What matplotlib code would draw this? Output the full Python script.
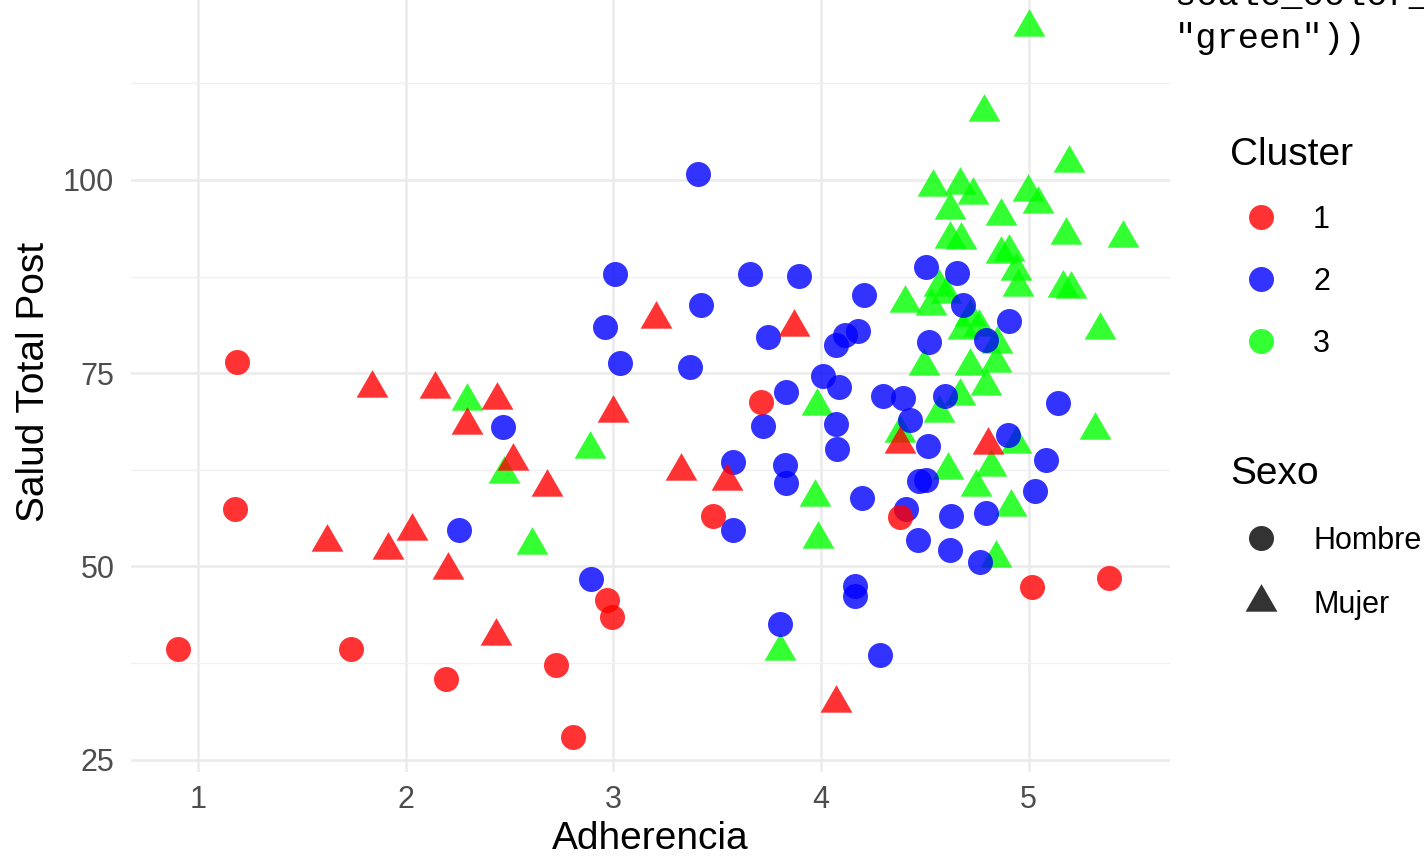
import numpy as np
import matplotlib
matplotlib.use("Agg")
import matplotlib.pyplot as plt
from matplotlib.lines import Line2D

plt.rcParams['font.family'] = ['Liberation Sans', 'DejaVu Sans']

# Cluster 1 - Hombre
c1_h_x = [1.19, 1.178, 0.905, 1.735, 2.197, 2.968, 2.992, 2.724, 2.804, 3.482, 3.714, 4.379, 5.018, 5.387]
c1_h_y = [76.5, 57.4, 39.3, 39.3, 35.4, 45.6, 43.5, 37.2, 28.0, 56.5, 71.3, 56.4, 47.3, 48.5]
# Cluster 1 - Mujer
c1_m_x = [1.836, 2.141, 2.442, 2.298, 2.517, 1.623, 1.916, 2.032, 2.205, 2.436, 2.679, 3.0, 3.204,
          3.87, 3.327, 3.548, 4.075, 4.379, 4.804]
c1_m_y = [73.1, 73.0, 71.5, 68.3, 63.6, 53.1, 52.1, 54.6, 49.6, 41.0, 60.3, 69.8, 82.0,
          81.0, 62.3, 61.0, 32.4, 65.9, 65.7]
# Cluster 2 - Hombre
c2_h_x = [2.47, 2.255, 2.893, 3.406, 3.008, 3.658, 3.894, 4.21, 3.425, 2.96, 3.743, 4.075, 4.116, 4.18,
          3.032, 3.369, 4.011, 4.088, 3.831, 3.722, 4.075, 4.08, 3.578, 3.827, 3.831, 4.197, 3.575,
          4.164, 4.164, 3.803, 4.286,
          4.505, 4.658, 4.686, 4.905, 4.796, 4.52, 4.299, 4.395, 4.6, 4.427, 5.141, 4.515, 4.902,
          5.085, 4.475, 4.507, 5.029, 4.41, 4.628, 4.796, 4.467, 4.62, 4.764]
c2_h_y = [68.0, 54.7, 48.4, 100.8, 87.8, 87.8, 87.6, 85.1, 83.8, 81.0, 79.7, 78.7, 79.9, 80.5,
          76.3, 75.8, 74.7, 73.2, 72.6, 68.2, 68.4, 65.2, 63.5, 63.1, 60.8, 58.8, 54.7,
          47.5, 46.2, 42.5, 38.6,
          88.8, 87.9, 83.8, 81.8, 79.3, 79.1, 72.0, 71.8, 72.1, 69.0, 71.1, 65.6, 67.0,
          63.8, 61.0, 61.2, 59.7, 57.4, 56.5, 56.9, 53.4, 52.1, 50.6]
# Cluster 3 - Mujer
c3_m_x = [2.298, 2.474, 2.888, 2.607, 3.979, 3.971, 3.987, 3.803,
          5.0, 4.788, 5.197, 4.539, 4.668, 4.732, 4.62, 4.997, 5.045, 4.868, 5.181, 5.454,
          4.62, 4.676, 4.868, 4.908, 4.94, 4.95, 5.165, 5.205, 4.571, 4.604, 4.403, 4.531,
          4.716, 4.684, 4.76, 4.85, 5.342, 4.499, 4.716, 4.844, 4.796, 4.668, 4.571, 4.379,
          4.94, 5.318, 4.612, 4.82, 4.748, 4.917, 4.844]
c3_m_y = [71.4, 61.9, 65.2, 52.8, 70.7, 59.0, 53.6, 39.0,
          119.8, 108.8, 102.2, 99.1, 99.4, 98.0, 96.1, 98.4, 96.9, 95.3, 92.9, 92.5,
          92.4, 92.2, 90.4, 90.7, 88.2, 86.2, 86.0, 85.9, 86.2, 85.3, 84.1, 83.7,
          82.3, 80.6, 81.0, 78.8, 80.6, 75.9, 75.9, 76.3, 73.3, 72.0, 69.8, 67.2,
          65.9, 67.7, 62.5, 62.9, 60.3, 57.7, 51.1]

clusters = ["1", "2", "3"]
colores = ["#FF0000", "#0000FF", "#00FF00"]
sexos = ["Hombre", "Mujer"]

triangulo = [(0, 1), (-0.866, -0.5), (0.866, -0.5)]
s_circ = 324
s_tri = 700

fig = plt.figure(figsize=(14.24, 8.58), dpi=100)

all_x = np.concatenate([c1_h_x, c1_m_x, c2_h_x, c3_m_x])
all_y = np.concatenate([c1_h_y, c1_m_y, c2_h_y, c3_m_y])
xr = all_x.max() - all_x.min()
yr = all_y.max() - all_y.min()
xlim = (all_x.min() - 0.05 * xr, all_x.max() + 0.05 * xr)
ylim = (all_y.min() - 0.05 * yr, all_y.max() + 0.05 * yr)

# panel algo más alto que la figura: arriba queda cortado como en la captura
ax = fig.add_axes([131 / 1424, 86 / 858, 1039 / 1424, 780.6 / 858])

ax.scatter(c3_m_x, c3_m_y, s=s_tri, marker=triangulo, color=colores[2], alpha=0.8, linewidths=0)
ax.scatter(c2_h_x, c2_h_y, s=s_circ, marker="o", color=colores[1], alpha=0.8, linewidths=0)
ax.scatter(c1_m_x, c1_m_y, s=s_tri, marker=triangulo, color=colores[0], alpha=0.8, linewidths=0)
ax.scatter(c1_h_x, c1_h_y, s=s_circ, marker="o", color=colores[0], alpha=0.8, linewidths=0)

ax.set_xlim(xlim)
ax.set_ylim(ylim)
ax.set_xticks([1, 2, 3, 4, 5])
ax.set_yticks([25, 50, 75, 100])
ax.set_yticks([37.5, 62.5, 87.5, 112.5], minor=True)
ax.grid(True, which="major", color="#EBEBEB", linewidth=1.8)
ax.grid(True, which="minor", axis="y", color="#F0F0F0", linewidth=1.0)
ax.set_axisbelow(True)
for sp in ax.spines.values():
    sp.set_visible(False)
ax.tick_params(which="both", length=0, labelsize=22, labelcolor="#4D4D4D")
ax.tick_params(axis="y", pad=12)
ax.tick_params(axis="x", pad=9)

ax.set_xlabel("Adherencia", fontsize=28, labelpad=5)
ax.set_ylabel("Salud Total Post", fontsize=28, labelpad=8)

# leyendas
h_cl = [Line2D([], [], linestyle="none", marker="o", markersize=18, markeredgewidth=0,
               color=c, alpha=0.8) for c in colores]
leg1 = fig.legend(h_cl, clusters, title="Cluster", loc="upper left",
                  bbox_to_anchor=(1230 / 1424, 0.840), frameon=False, fontsize=22,
                  title_fontsize=28, alignment="left", borderpad=0, borderaxespad=0,
                  handlelength=2.0, handletextpad=0.72, labelspacing=1.04)
h_sx = [Line2D([], [], linestyle="none", marker="o", markersize=18, markeredgewidth=0,
               color="#333333"),
        Line2D([], [], linestyle="none", marker=triangulo, markersize=26.5, markeredgewidth=0,
               color="#333333")]
leg2 = fig.legend(h_sx, sexos, title="Sexo", loc="upper left",
                  bbox_to_anchor=(1230 / 1424, 0.468), frameon=False, fontsize=22,
                  title_fontsize=28, alignment="left", borderpad=0, borderaxespad=0,
                  handlelength=2.0, handletextpad=0.72, labelspacing=1.1)

# restos del código visible arriba a la derecha
fig.text(1175 / 1424, 1 - 5 / 858, 'scale_color_manual(values = c("red", "blue",',
         family="Liberation Mono", fontsize=25.5, va="baseline", ha="left")
fig.text(1175 / 1424, 1 - 48 / 858, '"green"))',
         family="Liberation Mono", fontsize=25.5, va="baseline", ha="left")

fig.savefig("out.png", dpi=100)
